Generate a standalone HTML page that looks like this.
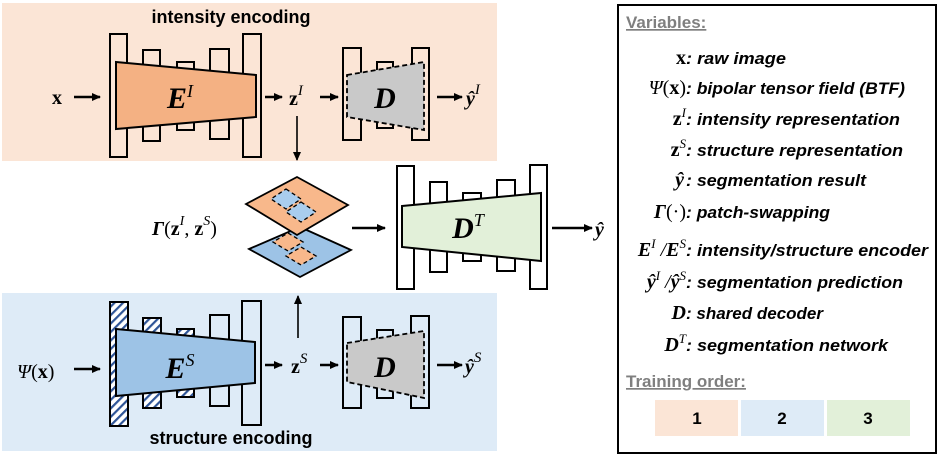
<!DOCTYPE html>
<html><head><meta charset="utf-8"><style>
html,body{margin:0;padding:0;background:#fff;}
svg{display:block;}
.sf{font-family:"Liberation Serif",serif;}
.ss{font-family:"Liberation Sans",sans-serif;}
.lg{font-family:"Liberation Sans",sans-serif;font-weight:bold;font-style:italic;font-size:17px;fill:#000;}
.m{font-family:"Liberation Serif",serif;font-size:20px;fill:#000;}
</style></head><body>
<svg width="941" height="458" viewBox="0 0 941 458" xmlns="http://www.w3.org/2000/svg">
<defs>
<marker id="ah" markerWidth="10" markerHeight="10" refX="8" refY="5" orient="auto" markerUnits="userSpaceOnUse">
<path d="M0,1 L9,5 L0,9 Z" fill="#000"/></marker>
<pattern id="hat" width="6" height="6" patternUnits="userSpaceOnUse" patternTransform="rotate(45)">
<rect width="6" height="6" fill="#fff"/><rect width="2.2" height="6" fill="#2f5597"/></pattern>
</defs>
<rect x="2" y="3" width="495" height="158" fill="#fbe5d6"/>
<rect x="2" y="293" width="495" height="158" fill="#deebf7"/>
<text x="231" y="23" class="ss" font-size="18" font-weight="bold" text-anchor="middle">intensity encoding</text>
<text x="231" y="444" class="ss" font-size="18" font-weight="bold" text-anchor="middle">structure encoding</text>

<g stroke="#000" stroke-width="2" fill="none">
<rect x="110" y="34" width="17" height="123"/>
<rect x="143" y="50" width="17" height="91"/>
<rect x="177" y="62" width="17" height="68"/>
<rect x="210" y="49" width="19" height="90"/>
<rect x="243" y="34" width="18" height="123"/>
</g>
<polygon points="116,62 256,75 256,117 116,129" fill="#f4b183" stroke="#000" stroke-width="2"/>
<g stroke="#000" stroke-width="2" fill="none">
<rect x="343" y="48" width="18" height="92"/>
<rect x="377" y="62" width="16" height="66"/>
<rect x="412" y="48" width="17" height="92"/>
</g>
<polygon points="347,75 424,62 424,130 347,117" fill="#c9c9c9" stroke="#000" stroke-width="1.8" stroke-dasharray="5,3"/>

<g stroke="#000" stroke-width="2">
<rect x="110" y="302" width="18" height="124" fill="url(#hat)"/>
<rect x="143" y="318" width="18" height="90" fill="url(#hat)"/>
<rect x="177" y="329" width="17" height="68" fill="url(#hat)"/>
<rect x="210" y="315" width="19" height="91" fill="none"/>
<rect x="242" y="301" width="19" height="124" fill="none"/>
</g>
<polygon points="116,329 255,342 255,383 116,396" fill="#9dc3e6" stroke="#000" stroke-width="2"/>
<g stroke="#000" stroke-width="2" fill="none">
<rect x="343" y="317" width="18" height="91"/>
<rect x="377" y="330" width="16" height="68"/>
<rect x="411" y="316" width="18" height="92"/>
</g>
<polygon points="347,343 424,331 424,398 347,382" fill="#c9c9c9" stroke="#000" stroke-width="1.8" stroke-dasharray="5,3"/>

<g stroke="#000" stroke-width="2" fill="none">
<rect x="397" y="166" width="17" height="123"/>
<rect x="430" y="182" width="17" height="90"/>
<rect x="463" y="193" width="18" height="68"/>
<rect x="497" y="180" width="18" height="91"/>
<rect x="530" y="165" width="17" height="124"/>
</g>
<polygon points="402,206 541,193 541,261 402,247" fill="#e2f0d9" stroke="#000" stroke-width="2"/>

<polygon points="300,227 351,250 300,277 249,249" fill="#9dc3e6" stroke="#000" stroke-width="1.8"/>
<polygon points="288,233 303,242 288,251 273,242" fill="#f8b88b" stroke="#000" stroke-width="1.3" stroke-dasharray="4,3"/>
<polygon points="301,247 316,256 301,265 286,256" fill="#f8b88b" stroke="#000" stroke-width="1.3" stroke-dasharray="4,3"/>
<polygon points="297,177 348,205 297,235 246,204" fill="#f8b88b" stroke="#000" stroke-width="1.8"/>
<polygon points="286,189 301,199 286,209 271,199" fill="#a9cdee" stroke="#000" stroke-width="1.3" stroke-dasharray="4,3"/>
<polygon points="301,202 316,212 301,222 286,212" fill="#a9cdee" stroke="#000" stroke-width="1.3" stroke-dasharray="4,3"/>

<g stroke="#000" stroke-width="2.6" marker-end="url(#ah)">
<line x1="74" y1="97" x2="100" y2="97"/>
<line x1="265" y1="97" x2="282" y2="97"/>
<line x1="320" y1="97" x2="338" y2="97"/>
<line x1="437" y1="97" x2="462" y2="97"/>
<line x1="74" y1="369" x2="100" y2="369"/>
<line x1="265" y1="365" x2="282" y2="365"/>
<line x1="320" y1="365" x2="338" y2="365"/>
<line x1="437" y1="365" x2="462" y2="365"/>
<line x1="352" y1="228" x2="385" y2="228"/>
<line x1="552" y1="228" x2="592" y2="228"/>
</g>
<g stroke="#000" stroke-width="1.6" marker-end="url(#ah)">
<line x1="297" y1="116" x2="297" y2="160"/>
<line x1="298" y1="338" x2="298" y2="296"/>
</g>

<text x="52" y="104" class="m" font-weight="bold" font-size="24">x</text>
<text x="180" y="108" class="sf" font-size="30" font-weight="bold" font-style="italic" text-anchor="middle">E<tspan font-size="18" dy="-11" font-weight="normal">I</tspan></text>
<text x="289" y="105" class="m" font-size="24" font-weight="bold">z<tspan font-size="15" dy="-10" font-style="italic" font-weight="normal">I</tspan></text>
<text x="385" y="108" class="sf" font-size="30" font-weight="bold" font-style="italic" text-anchor="middle">D</text>
<text x="466" y="105" class="m" font-size="25" font-weight="bold" font-style="italic">ŷ<tspan font-size="15" dy="-11" font-weight="normal">I</tspan></text>

<text x="17" y="378" class="m" font-size="24"><tspan font-style="italic">Ψ</tspan>(<tspan font-weight="bold">x</tspan>)</text>
<text x="180" y="378" class="sf" font-size="30" font-weight="bold" font-style="italic" text-anchor="middle">E<tspan font-size="18" dy="-12" font-weight="normal">S</tspan></text>
<text x="291" y="373" class="m" font-size="24" font-weight="bold">z<tspan font-size="15" dy="-10" font-style="italic" font-weight="normal">S</tspan></text>
<text x="385" y="377" class="sf" font-size="30" font-weight="bold" font-style="italic" text-anchor="middle">D</text>
<text x="465" y="373" class="m" font-size="25" font-weight="bold" font-style="italic">ŷ<tspan font-size="15" dy="-11" font-weight="normal">S</tspan></text>

<text x="152" y="235" class="m" font-size="24"><tspan font-weight="bold" font-style="italic">Γ</tspan>(<tspan font-weight="bold">z</tspan><tspan font-size="14" dy="-10" font-style="italic">I</tspan><tspan dy="10">,</tspan> <tspan font-weight="bold">z</tspan><tspan font-size="14" dy="-10" font-style="italic">S</tspan><tspan dy="10">)</tspan></text>
<text x="468" y="238" class="sf" font-size="30" font-weight="bold" font-style="italic" text-anchor="middle">D<tspan font-size="18" dy="-12" font-weight="normal">T</tspan></text>
<text x="595" y="236" class="m" font-size="25" font-weight="bold" font-style="italic">ŷ</text>

<rect x="618" y="5" width="318" height="448" fill="none" stroke="#000" stroke-width="2"/>
<text x="626" y="28" class="ss" font-size="17" font-weight="bold" fill="#7f7f7f" text-decoration="underline">Variables:</text>
<g class="m" text-anchor="end">
<text x="686" y="64" font-weight="bold">x</text>
<text x="686" y="94"><tspan font-style="italic">Ψ</tspan>(<tspan font-weight="bold">x</tspan>)</text>
<text x="686" y="125" font-weight="bold">z<tspan font-size="13" dy="-8" font-style="italic" font-weight="normal">I</tspan></text>
<text x="686" y="156" font-weight="bold">z<tspan font-size="13" dy="-8" font-style="italic" font-weight="normal">S</tspan></text>
<text x="684" y="186" font-weight="bold" font-style="italic">ŷ</text>
<text x="686" y="218"><tspan font-weight="bold" font-style="italic">Γ</tspan>(·)</text>
<text x="686" y="256" font-weight="bold" font-style="italic">E<tspan font-size="13" dy="-8" font-weight="normal">I</tspan><tspan dy="8" font-weight="normal"> /</tspan>E<tspan font-size="13" dy="-8" font-weight="normal">S</tspan></text>
<text x="686" y="288" font-weight="bold" font-style="italic">ŷ<tspan font-size="13" dy="-8" font-weight="normal">I</tspan><tspan dy="8" font-weight="normal"> /</tspan>ŷ<tspan font-size="13" dy="-8" font-weight="normal">S</tspan></text>
<text x="686" y="319" font-weight="bold" font-style="italic">D</text>
<text x="686" y="351" font-weight="bold" font-style="italic">D<tspan font-size="13" dy="-8" font-weight="normal">T</tspan></text>
</g>
<g class="lg">
<text x="686" y="64" textLength="100" lengthAdjust="spacingAndGlyphs">: raw image</text>
<text x="686" y="94" textLength="219" lengthAdjust="spacingAndGlyphs">: bipolar tensor field (BTF)</text>
<text x="686" y="125" textLength="214" lengthAdjust="spacingAndGlyphs">: intensity representation</text>
<text x="686" y="156" textLength="217" lengthAdjust="spacingAndGlyphs">: structure representation</text>
<text x="686" y="186" textLength="180" lengthAdjust="spacingAndGlyphs">: segmentation result</text>
<text x="686" y="218" textLength="144" lengthAdjust="spacingAndGlyphs">: patch-swapping</text>
<text x="686" y="256" textLength="242" lengthAdjust="spacingAndGlyphs">: intensity/structure encoder</text>
<text x="686" y="288" textLength="217" lengthAdjust="spacingAndGlyphs">: segmentation prediction</text>
<text x="686" y="319" textLength="137" lengthAdjust="spacingAndGlyphs">: shared decoder</text>
<text x="686" y="351" textLength="202" lengthAdjust="spacingAndGlyphs">: segmentation network</text>
</g>
<text x="626" y="387" class="ss" font-size="17" font-weight="bold" fill="#7f7f7f" text-decoration="underline">Training order:</text>
<rect x="655" y="400" width="83" height="36" fill="#fbe5d6"/>
<rect x="741" y="400" width="83" height="36" fill="#deebf7"/>
<rect x="827" y="400" width="83" height="36" fill="#e2f0d9"/>
<g class="ss" font-size="17" font-weight="bold" text-anchor="middle">
<text x="697" y="424">1</text><text x="782" y="424">2</text><text x="868" y="424">3</text>
</g>
</svg>
</body></html>
